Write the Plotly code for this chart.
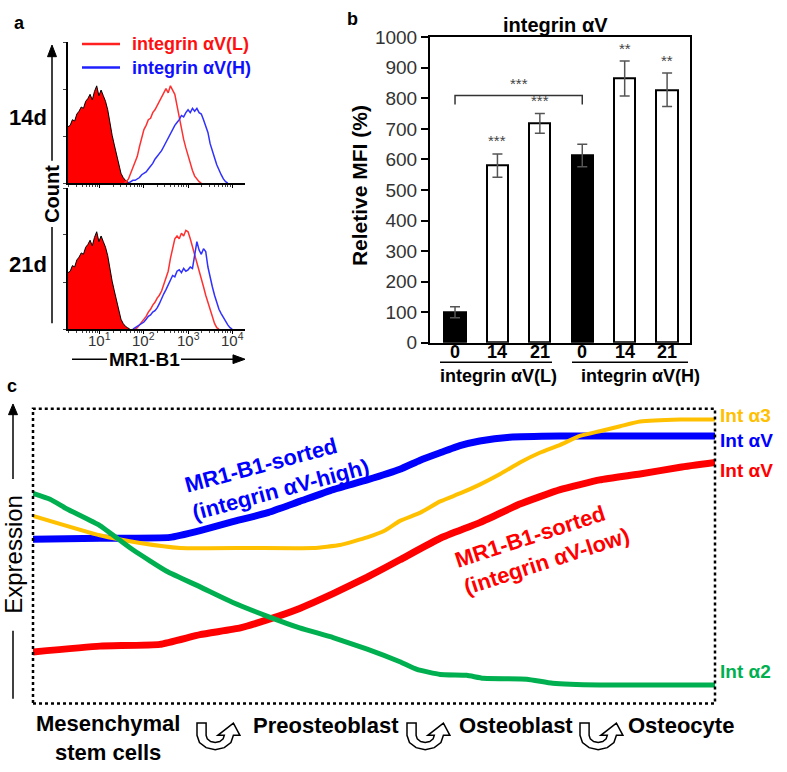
import plotly.graph_objects as go

W, H = 787, 772
FONT = "Liberation Sans, Arial, sans-serif"

# ---------------- Panel a: flow histograms (counts in % of axis height) ----------------
bin_step = 0.05  # log10 units
ctrl_start = 0.28
ctrl_counts = [40, 41, 45, 44, 49, 51, 54, 53, 58, 60, 63, 59, 65, 69, 62, 66, 62, 58, 52,
               42, 34, 27, 20, 13, 7, 4, 2, 1, 0]
L14_start = 1.55
L14_counts = [0, 1, 3, 7, 11, 15, 19, 26, 33, 38, 41, 45, 46, 50, 52, 55, 58, 60, 63, 67, 64,
              69, 66, 63, 55, 46, 39, 31, 25, 19, 13, 9, 5, 3, 1, 0]
H14_start = 1.65
H14_counts = [0, 1, 2, 2, 3, 4, 6, 7, 8, 10, 12, 14, 17, 19, 21, 23, 26, 29, 32, 36, 38, 41, 43,
              45, 48, 47, 50, 52, 50, 53, 51, 53, 50, 49, 45, 40, 36, 28, 22, 18, 13, 9, 6, 3, 1, 0]
L21_start = 1.80
L21_counts = [0, 1, 3, 5, 7, 9, 12, 14, 17, 19, 22, 24, 27, 32, 36, 41, 50, 57, 64, 66, 64, 68,
              66, 70, 69, 64, 58, 53, 47, 41, 36, 30, 24, 19, 13, 9, 4, 1, 0]
H21_start = 1.75
H21_counts = [0, 1, 2, 3, 4, 5, 7, 9, 10, 12, 13, 15, 18, 22, 25, 28, 31, 35, 38, 37, 41, 42, 40,
              43, 41, 42, 44, 43, 52, 62, 56, 53, 57, 55, 44, 36, 30, 24, 19, 14, 11, 8, 5, 3, 1, 0]
hist_decades = [1, 2, 3, 4]
hist_ticktext = ["10<sup>1</sup>", "10<sup>2</sup>", "10<sup>3</sup>", "10<sup>4</sup>"]

# ---------------- Panel b: bar chart ----------------
days = ["0", "14", "21", "0", "14", "21"]
mfi = [100, 580, 718, 613, 865, 828]
mfi_err = [18, 38, 32, 37, 57, 55]
bar_colors = ["black", "white", "white", "black", "white", "white"]
stars = ["", "***", "***", "", "**", "**"]
bracket_level = 809
bracket_foot = 780

# ---------------- Panel c: schematic expression curves (0-100 units) ----------------
blue_x = [0, 9.8, 20.1, 24.5, 29.3, 34.3, 39.1, 44.0, 49.0, 53.8, 56.7, 59.7, 62.6, 65.5, 69.9, 77.3, 100]
blue_y = [55.8, 56.1, 56.4, 58.7, 61.7, 64.7, 68.6, 72.6, 75.9, 79.5, 82.5, 85.1, 87.5, 89.1, 90.4, 90.8, 90.8]
yel_x = [0, 9.8, 15.7, 21.6, 31.8, 41.1, 45.0, 49.0, 51.6, 53.8, 56.7, 59.7, 62.6, 65.5, 68.5, 71.4,
         74.3, 77.3, 80.2, 83.1, 86.1, 89.0, 94.9, 100]
yel_y = [63.7, 57.1, 54.5, 52.8, 52.8, 52.8, 53.8, 56.4, 58.7, 62.0, 64.7, 68.6, 71.3, 74.3, 77.9, 81.8,
         85.1, 87.8, 90.8, 92.4, 94.1, 95.7, 96.4, 96.4]
red_x = [0, 9.8, 18.6, 24.5, 30.4, 34.3, 39.1, 44.0, 49.0, 53.8, 59.7, 65.5, 71.4, 77.3, 83.1, 89.0, 94.9, 100]
red_y = [17.5, 19.5, 20.1, 23.4, 25.7, 28.4, 32.3, 37.3, 42.9, 48.8, 56.1, 61.4, 67.7, 72.6, 75.9, 77.9, 80.2, 81.8]
grn_x = [0, 2.5, 5.0, 9.8, 14.7, 19.6, 24.5, 29.3, 34.3, 39.1, 44.0, 49.0, 53.8, 56.3, 59.7, 63.6, 66.0, 72.4, 76.2, 83.1, 100]
grn_y = [71.3, 69.3, 66.0, 60.4, 52.1, 44.9, 39.6, 34.3, 29.7, 25.7, 22.4, 18.5, 14.2, 11.6, 9.9, 9.6, 8.6, 8.3, 6.9, 6.3, 6.3]
stages = ["Mesenchymal<br>stem cells", "Preosteoblast", "Osteoblast", "Osteocyte"]


def px(x):
    return x / W


def py(y):
    return 1 - y / H


def bins(start, n):
    return [10 ** (start + bin_step * i) for i in range(n)]


fig = go.Figure()

# Panel a traces
for xa, ya, lst, hst, lcnt, hcnt in [("x", "y", L14_start, H14_start, L14_counts, H14_counts),
                                      ("x2", "y2", L21_start, H21_start, L21_counts, H21_counts)]:
    fig.add_trace(go.Scatter(x=bins(ctrl_start, len(ctrl_counts)), y=ctrl_counts, mode="lines",
                             fill="tozeroy", fillcolor="#FF0000",
                             line=dict(color="black", width=1), xaxis=xa, yaxis=ya, showlegend=False))
    fig.add_trace(go.Scatter(x=bins(lst, len(lcnt)), y=lcnt, mode="lines",
                             line=dict(color="#FF3030", width=1.5), xaxis=xa, yaxis=ya, showlegend=False))
    fig.add_trace(go.Scatter(x=bins(hst, len(hcnt)), y=hcnt, mode="lines",
                             line=dict(color="#3030FF", width=1.5), xaxis=xa, yaxis=ya, showlegend=False))

# Panel b
fig.add_trace(go.Bar(x=list(range(len(mfi))), y=mfi, width=0.5,
                     marker=dict(color=bar_colors, line=dict(color="black", width=2)),
                     error_y=dict(type="data", array=mfi_err, color="#555", thickness=1.5, width=5),
                     xaxis="x3", yaxis="y3", showlegend=False))

# Panel c
for xs, ys, col, wd in [(blue_x, blue_y, "#0000FF", 7), (red_x, red_y, "#FF0000", 7),
                        (yel_x, yel_y, "#FFC000", 4), (grn_x, grn_y, "#00B050", 5)]:
    fig.add_trace(go.Scatter(x=xs, y=ys, mode="lines",
                             line=dict(color=col, width=wd, shape="spline", smoothing=0.4),
                             xaxis="x4", yaxis="y4", showlegend=False))

hist_x_common = dict(type="log", range=[0.28, 4.29], domain=[px(68), px(245)], showline=True,
                     linecolor="black", linewidth=1.5, ticks="outside", ticklen=3, tickcolor="black",
                     tickvals=[10 ** d for d in hist_decades], showticklabels=False,
                     showgrid=False, zeroline=False,
                     minor=dict(ticks="outside", ticklen=2, tickcolor="#444", dtick="D1"))
hist_y_common = dict(range=[0, 100], showline=True, linecolor="black", linewidth=1.5,
                     ticks="outside", ticklen=3, tickvals=[0, 33.3, 66.7, 100], showticklabels=False,
                     showgrid=False, zeroline=False)

fig.update_layout(
    width=W, height=H, margin=dict(l=0, r=0, t=0, b=0),
    paper_bgcolor="white", plot_bgcolor="rgba(0,0,0,0)",
    xaxis=dict(hist_x_common, anchor="y"),
    yaxis=dict(hist_y_common, domain=[py(178), py(33)], anchor="x"),
    xaxis2=dict(hist_x_common, anchor="y2"),
    yaxis2=dict(hist_y_common, domain=[py(328), py(183)], anchor="x2"),
    xaxis3=dict(domain=[px(430), px(690)], range=[-0.59, 5.54], anchor="y3", showline=True, mirror=True,
                linecolor="black", linewidth=2, ticks="", showticklabels=False,
                showgrid=False, zeroline=False),
    yaxis3=dict(domain=[py(342), py(28)], range=[0, 1000], anchor="x3", showline=True, mirror=True,
                linecolor="black", linewidth=2, ticks="outside", ticklen=7, tickwidth=1.5, tickcolor="black",
                tickvals=list(range(0, 1001, 100)), showgrid=False, zeroline=False,
                tickfont=dict(family=FONT, size=19, color="#333")),
    xaxis4=dict(domain=[px(33), px(715)], range=[0, 100], anchor="y4", visible=False),
    yaxis4=dict(domain=[py(713), py(410)], range=[0, 100], anchor="x4", visible=False),
    bargap=0,
)

shapes = []
ann = []


def text(x, y, t, size=18, color="black", bold=True, angle=0, xanchor="center", align="center"):
    ann.append(dict(x=px(x), y=py(y), xref="paper", yref="paper", text=("<b>%s</b>" % t) if bold else t,
                    showarrow=False, textangle=angle, xanchor=xanchor, yanchor="middle", align=align,
                    font=dict(family=FONT, size=size, color=color)))


def line(x0, y0, x1, y1, color="black", width=1.5):
    shapes.append(dict(type="line", xref="paper", yref="paper", x0=px(x0), y0=py(y0), x1=px(x1), y1=py(y1),
                       line=dict(color=color, width=width)))


def poly(pts, fill="black", lw=1, lc="black"):
    path = "M " + " L ".join("%.5f,%.5f" % (px(a), py(b)) for a, b in pts) + " Z"
    shapes.append(dict(type="path", xref="paper", yref="paper", path=path, fillcolor=fill,
                       line=dict(color=lc, width=lw)))


# ---- panel a decorations ----
text(19, 13, "a", 18)
line(82, 35, 120, 35, "#FF2020", 2.5)
line(82, 59, 120, 59, "#2020FF", 2.5)
text(130, 35, "integrin αV(L)", 18, "#FF1010", xanchor="left")
text(130, 60, "integrin αV(H)", 18, "#1010FF", xanchor="left")
text(28, 110, "14d", 22)
text(28, 262, "21d", 22)
line(52, 223, 52, 322)
line(52, 46, 52, 155)
poly([(52, 36), (47.5, 48), (56.5, 48)])
text(52, 189, "Count", 20, angle=-90)
for d, tt in zip(hist_decades, hist_ticktext):
    ann.append(dict(x=d, y=py(339), xref="x2", yref="paper", text=tt, showarrow=False,
                    xanchor="center", yanchor="middle", font=dict(family=FONT, size=15, color="#333")))
text(144, 359, "MR1-B1", 19)
line(72, 359, 107, 359)
line(181, 359, 235, 359)
poly([(245, 359), (233, 354.5), (233, 363.5)])

# ---- panel b decorations ----
text(352, 9, "b", 18)
text(555, 15, "integrin αV", 20)
text(359, 181, "Reletive MFI (%)", 21, angle=-90)
for i, d in enumerate(days):
    ann.append(dict(x=i, y=py(352), xref="x3", yref="paper", text="<b>%s</b>" % d, showarrow=False,
                    xanchor="center", yanchor="middle", font=dict(family=FONT, size=18, color="black")))
for i, s in enumerate(stars):
    if s:
        ann.append(dict(x=i, y=mfi[i] + mfi_err[i] + 8, xref="x3", yref="y3", text=s, showarrow=False,
                        yanchor="bottom", font=dict(family=FONT, size=15, color="#444")))
shapes.append(dict(type="path", xref="x3", yref="y3",
                   path="M 0,%d L 0,%d L 3,%d L 3,%d" % (bracket_foot, bracket_level, bracket_level, bracket_foot),
                   line=dict(color="#333", width=1.5)))
ann.append(dict(x=1.5, y=bracket_level + 6, xref="x3", yref="y3", text="***", showarrow=False,
                yanchor="bottom", font=dict(family=FONT, size=15, color="#444")))
line(440, 362, 552, 362, width=1.5)
line(572, 362, 688, 362, width=1.5)
text(498, 376, "integrin αV(L)", 18)
text(640, 376, "integrin αV(H)", 18)

# ---- panel c decorations ----
text(12, 387, "c", 18)
shapes.append(dict(type="rect", xref="paper", yref="paper", x0=px(33), y0=py(713), x1=px(715), y1=py(410),
                   line=dict(color="black", width=2.5, dash="dot")))
line(13, 414, 13, 482)
poly([(13, 405), (8.5, 416), (17.5, 416)])
line(13, 638, 13, 708)
text(14, 560, "Expression", 24, bold=False, angle=-90)
text(718, 417, "Int α3", 19, "#FFC000", xanchor="left")
text(718, 443, "Int αV", 19, "#0000FF", xanchor="left")
text(718, 473, "Int αV", 19, "#FF0000", xanchor="left")
text(718, 680, "Int α2", 19, "#00B050", xanchor="left")
text(277, 479, "MR1-B1-sorted<br>(integrin αV-high)", 22, "#0000FF", angle=-15, align="left")
text(542, 553, "MR1-B1-sorted<br>(integrin αV-low)", 22, "#FF0000", angle=-18, align="left")

stage_pos = [(108, 748), (326, 735), (516, 735), (681, 735)]
for (sx, sy), lab in zip(stage_pos, stages):
    text(sx, sy, lab, 22)

# U-turn outline arrows
u_pts = [(0, 0), (0, 12), (1.9, 19), (7, 24.1), (14, 26), (21, 24.1), (26.1, 19), (28, 12), (33, 12),
         (28, 0), (16, 12), (21, 12), (20.1, 15.5), (17.5, 18.1), (14, 19), (10.5, 18.1), (7.9, 15.5),
         (7, 12), (7, 0)]
for L in [197, 407, 580]:
    T = 733
    poly([(L + 1.3 * a, T + 1.05 * b) for a, b in u_pts], fill="white", lw=1.5)

fig.update_layout(shapes=shapes, annotations=ann)
fig.write_html("out.html", config={"displayModeBar": False, "staticPlot": False},
               post_script="document.body.style.margin='0px';")
